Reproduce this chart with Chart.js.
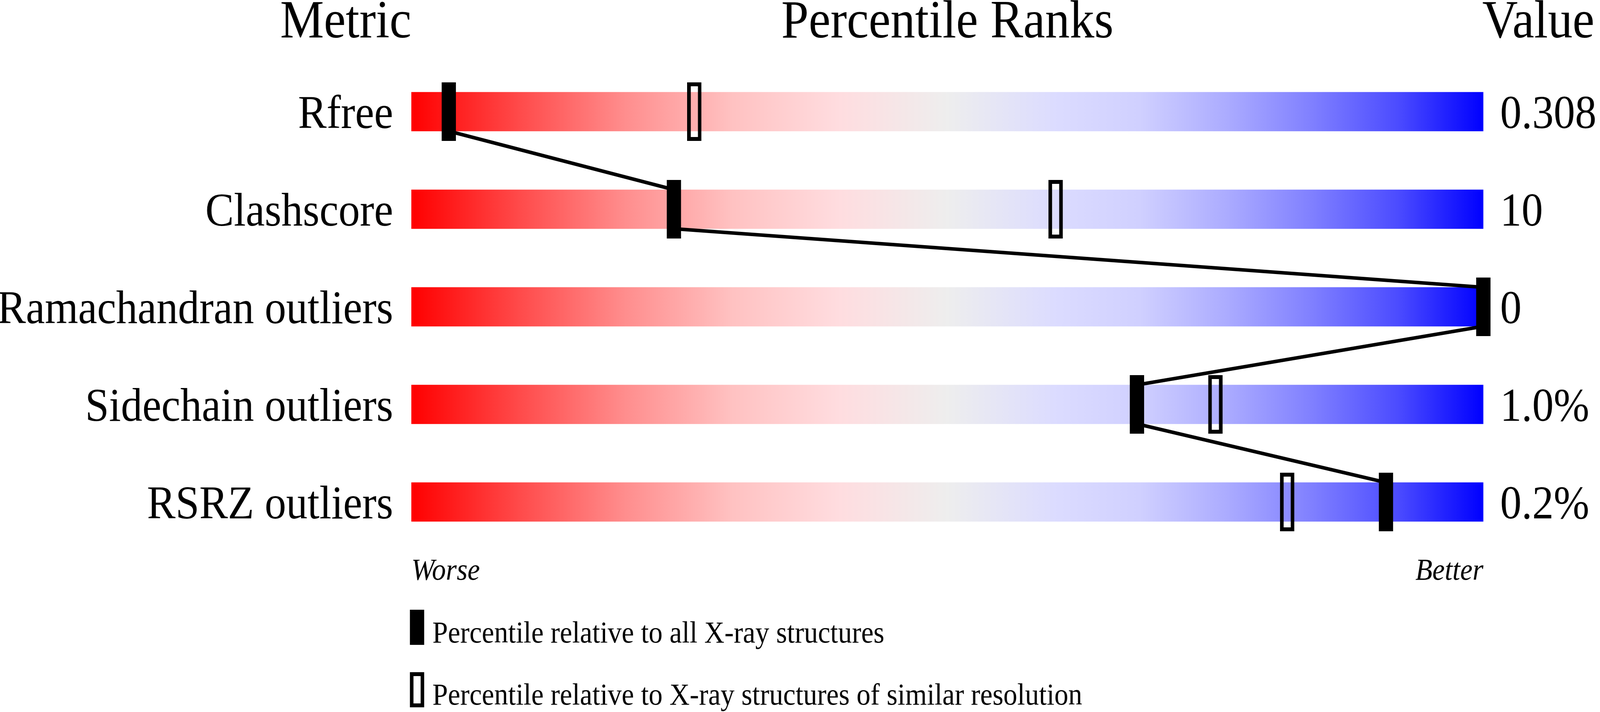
<!DOCTYPE html>
<html>
<head>
<meta charset="utf-8">
<script src="https://cdn.jsdelivr.net/npm/chart.js@4.4.1/dist/chart.umd.min.js"></script>
<style>
  html, body { margin: 0; padding: 0; background: #fff; overflow: hidden; }
  #myChart { display: block; }
</style>
</head>
<body>
<canvas id="myChart" width="4485" height="1824" style="width:4485px;height:1824px"></canvas>
<script>
// dati
const metrics = ['Rfree', 'Clashscore', 'Ramachandran outliers', 'Sidechain outliers', 'RSRZ outliers'];
const values = ['0.308', '10', '0', '1.0%', '0.2%'];
const pctAll = [3.5, 24.5, 100, 67.7, 90.9];        // marker pieno
const pctSimilar = [26.4, 60.1, 100, 75.0, 81.7];   // marker vuoto
const endLabels = ['Worse', 'Better'];
const headers = ['Metric', 'Percentile Ranks', 'Value'];
const legendLabels = ['Percentile relative to all X-ray structures',
                      'Percentile relative to X-ray structures of similar resolution'];

const SERIF = "'Liberation Serif', 'Times New Roman', serif";

// sfumatura rosso -> grigio -> blu
const stops = [
  [0, '#ff0000'], [0.1, '#ff4a4a'], [0.2, '#ff8e8e'], [0.3, '#ffc2c2'],
  [0.4, '#ffdde0'], [0.5, '#eeeeee'], [0.6, '#dcdcff'], [0.68, '#d0d0ff'],
  [0.76, '#acacff'], [0.84, '#8080ff'], [0.92, '#4c4cff'], [1, '#0000ff']
];

// il canvas e' disegnato a 4485px e poi adattato alla larghezza della finestra
const ctx = document.getElementById('myChart');
ctx.style.width = Math.min(window.innerWidth || 4485, 4485) + 'px';

// marker come canvas (pointStyle)
const makeMarker = (w, h, filled) => {
  const c = document.createElement('canvas');
  c.width = w; c.height = h;
  const g = c.getContext('2d');
  g.fillStyle = '#000';
  g.strokeStyle = '#000';
  if (filled) {
    g.fillRect(0, 0, w, h);
  } else {
    g.lineWidth = 10;
    g.strokeRect(5, 5, w - 10, h - 10);
  }
  return c;
}
const fullMark = makeMarker(40, 150, true);
const openMark = makeMarker(40, 150, false);

// linea che unisce i marker pieni: dal fondo di una barra alla cima della successiva
const HALF = 0.2;   // mezza barra in unita' di riga (100px / 250px)
const linkPts = [];
pctAll.forEach((p, i) => {
  if (i > 0) linkPts.push({ x: p, y: i - HALF });
  if (i < pctAll.length - 1) linkPts.push({ x: p, y: i + HALF });
});

const rowTicks = (scale) => { scale.ticks = metrics.map((_, i) => ({ value: i })); };

// titoli in alto e legenda in basso
const decorPlugin = {
  id: 'decor',
  afterDraw: (chart) => {
    const { ctx, chartArea: a } = chart;
    ctx.save();
    ctx.fillStyle = '#000';
    ctx.strokeStyle = '#000';
    ctx.textBaseline = 'alphabetic';
    ctx.font = '138px ' + SERIF;
    ctx.textAlign = 'right';
    ctx.fillText(headers[0], a.left, 96);
    ctx.textAlign = 'center';
    ctx.fillText(headers[1], (a.left + a.right) / 2, 96);
    ctx.textAlign = 'left';
    ctx.fillText(headers[2], a.right - 3, 96);

    ctx.font = '78px ' + SERIF;
    const lx = a.left - 4;
    ctx.fillRect(lx, a.bottom + 151, 40, 90);
    ctx.fillText(legendLabels[0], lx + 63, a.bottom + 235);
    ctx.lineWidth = 10;
    ctx.strokeRect(lx + 5, a.bottom + 311 + 5, 30, 80);
    ctx.fillText(legendLabels[1], lx + 63, a.bottom + 394);
    ctx.restore();
  }
};

new Chart(ctx, {
  type: 'bar',
  data: {
    datasets: [
      {
        type: 'scatter',
        data: pctAll.map((p, i) => ({ x: p, y: i })),
        pointStyle: fullMark,
        pointRadius: 3,
        clip: false,
        order: 0
      },
      {
        type: 'scatter',
        data: pctSimilar.map((p, i) => ({ x: p, y: i })),
        pointStyle: openMark,
        pointRadius: 3,
        clip: false,
        order: 1
      },
      {
        type: 'line',
        data: linkPts,
        borderColor: '#000',
        borderWidth: 9,
        borderJoinStyle: 'bevel',
        pointRadius: 0,
        tension: 0,
        clip: false,
        order: 2
      },
      {
        type: 'bar',
        indexAxis: 'y',
        data: metrics.map((m, i) => ({ x: [0, 100], y: i })),
        barThickness: 100,
        borderWidth: 0,
        backgroundColor: (c) => {
          const area = c.chart.chartArea;
          if (!area) return null;
          const xs = c.chart.scales.x;
          const grad = c.chart.ctx.createLinearGradient(xs.getPixelForValue(0), 0, xs.getPixelForValue(100), 0);
          stops.forEach(s => grad.addColorStop(s[0], s[1]));
          return grad;
        },
        order: 3
      }
    ]
  },
  options: {
    responsive: false,
    devicePixelRatio: 1,
    animation: false,
    layout: { padding: { top: 161, left: 0, right: 0, bottom: 0 } },
    plugins: {
      legend: { display: false },
      tooltip: { enabled: false }
    },
    scales: {
      x: {
        type: 'linear', position: 'bottom', min: 0, max: 100, offset: false,
        afterBuildTicks: (s) => { s.ticks = [{ value: 0 }, { value: 100 }]; },
        afterFit: (s) => { s.height = 413; },
        grid: { display: false, drawTicks: false, offset: false },
        border: { display: false },
        ticks: {
          align: 'inner', padding: 7, autoSkip: false, maxRotation: 0, color: '#000',
          font: { family: SERIF, size: 78, style: 'italic' },
          callback: (v) => v === 0 ? endLabels[0] : endLabels[1]
        }
      },
      y: {
        type: 'linear', position: 'left', min: -0.5, max: 4.5, reverse: true, offset: false,
        afterBuildTicks: rowTicks,
        afterFit: (s) => { s.width = 1153; },
        grid: { display: false, drawTicks: false, offset: false },
        border: { display: false },
        ticks: {
          padding: 51, labelOffset: 10, autoSkip: false, color: '#000',
          font: { family: SERIF, size: 120 },
          callback: (v) => metrics[v]
        }
      },
      y2: {
        type: 'linear', position: 'right', min: -0.5, max: 4.5, reverse: true, offset: false,
        afterBuildTicks: rowTicks,
        afterFit: (s) => { s.width = 327; },
        grid: { display: false, drawTicks: false, offset: false },
        border: { display: false },
        ticks: {
          padding: 47, labelOffset: 10, autoSkip: false, color: '#000',
          font: { family: SERIF, size: 120 },
          callback: (v) => values[v]
        }
      }
    }
  },
  plugins: [decorPlugin]
});
</script>
</body>
</html>
